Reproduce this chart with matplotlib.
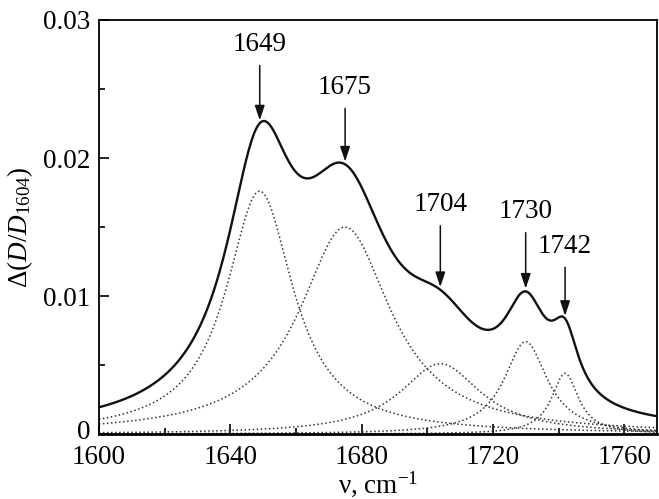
import matplotlib
matplotlib.use("Agg")
import matplotlib.pyplot as plt
import matplotlib.transforms as mtransforms
import numpy as np

plt.rcParams['font.family'] = ['Liberation Serif', 'DejaVu Serif']
plt.rcParams['mathtext.fontset'] = 'custom'
plt.rcParams['mathtext.rm'] = 'Liberation Serif'
plt.rcParams['mathtext.it'] = 'Liberation Serif:italic'

# fitted bands: centre (cm-1), height, half-width at half maximum
band_centers = [1649, 1675, 1704, 1730, 1742]
band_heights = [0.0176, 0.0150, 0.0051, 0.0067, 0.0044]
band_hwhm = [12.5, 17.0, 15.0, 8.0, 5.0]

# label positions (height of the number above each arrow)
label_y = [0.0282, 0.0251, 0.0166, 0.0161, 0.0136]

nu = np.linspace(1600, 1770, 800)


def lorentz(x, c, h, g):
    return h / (1.0 + ((x - c) / g) ** 2)


fig = plt.figure(figsize=(6.59, 4.99), dpi=100)
ax = fig.add_axes([0.150, 0.130, 0.847, 0.830])

total = np.zeros_like(nu)
for c, h, g in zip(band_centers, band_heights, band_hwhm):
    comp = lorentz(nu, c, h, g)
    total += comp
    ax.plot(nu, comp, ls=':', color='#333333', lw=1.1)

ax.plot(nu, total, color='#111111', lw=1.7)

for c, ly in zip(band_centers, label_y):
    tip = sum(lorentz(c, cc, hh, gg) for cc, hh, gg in zip(band_centers, band_heights, band_hwhm))
    ax.annotate(str(c), xy=(c, tip), xytext=(c, ly), ha='center', va='center',
                fontsize=19.5,
                arrowprops=dict(arrowstyle='-|>,head_length=0.45,head_width=0.15',
                                color='#111111', lw=1.1, mutation_scale=20,
                                shrinkA=4, shrinkB=2))

ax.set_xlim(1600, 1770)
ax.set_ylim(0, 0.03)
ax.set_xticks([1600, 1640, 1680, 1720, 1760])
ax.set_xticks([1620, 1660, 1700, 1740], minor=True)
ax.set_yticks([0, 0.01, 0.02, 0.03])
ax.set_yticklabels(['0', '0.01', '0.02', '0.03'])
ax.set_yticks([0.005, 0.015, 0.025], minor=True)
ax.tick_params(which='both', direction='in', labelsize=19.5, width=1.2)
ax.tick_params(which='major', length=7, pad=6)
ax.tick_params(which='minor', length=4.5)
ax.tick_params(axis='x', pad=8)
for side in ['top', 'right', 'left']:
    ax.spines[side].set_linewidth(1.3)
ax.spines['bottom'].set_linewidth(2.0)

# lift the "0" a little so it clears the 1600 label below it
zero_lbl = ax.get_yticklabels()[0]
zero_lbl.set_transform(zero_lbl.get_transform()
                       + mtransforms.ScaledTranslation(0, 3 / 72, fig.dpi_scale_trans))

ax.set_xlabel(r'ν, cm$^{-1}$', fontsize=19.5, labelpad=-1)
ax.set_ylabel(r'$\Delta(D/D_{1604})$', fontsize=19.5, labelpad=6)

fig.savefig('out.png', dpi=100)
